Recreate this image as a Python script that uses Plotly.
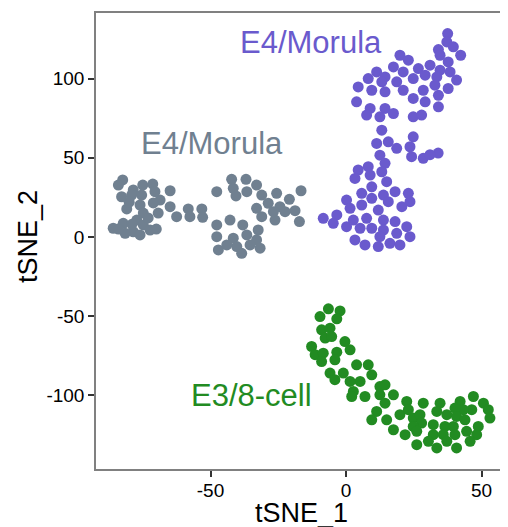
import plotly.graph_objects as go

# E4/Morula (grey cluster)
grey_x = [-82.4, -84.0, -78.5, -75.0, -71.3, -64.9, -82.8, -79.1, -75.4, -70.5, -68.6, -80.9, -76.0, -71.1,
          -64.9, -69.3, -74.8, -62.5, -58.2, -53.2, -57.6, -52.9, -77.2, -85.9, -82.2, -78.5, -74.8, -72.3,
          -76.0, -81.5, -80.0, -73.0, -79.0, -84.0, -70.0,
          -47.7, -42.2, -36.9, -33.0, -41.6, -40.6, -36.6, -31.1, -25.6, -16.6, -20.9, -28.7, -33.0, -24.4,
          -18.8, -31.1, -26.2, -17.2, -22.5, -26.8, -42.8, -47.7, -38.1, -32.4, -47.7, -41.6, -36.6, -33.0,
          -47.1, -40.3, -38.5, -35.4, -31.7, -44.0]
grey_y = [36.0, 32.8, 29.7, 32.8, 33.4, 29.2, 25.4, 26.5, 26.5, 28.6, 23.3, 17.7, 20.2, 21.5,
          19.1, 15.1, 15.1, 12.8, 17.7, 17.7, 12.8, 12.4, 10.7, 5.5, 8.6, 3.3, 7.6, 4.4,
          1.3, 2.3, 22.0, 12.0, 8.0, 5.0, 5.0,
          28.6, 36.4, 36.4, 32.8, 30.7, 25.9, 28.6, 26.5, 27.6, 29.2, 23.8, 21.3, 18.1, 19.1,
          16.6, 12.8, 10.7, 9.7, 16.0, 16.0, 10.7, 7.6, 7.6, 4.4, 0.2, -0.8, 1.3, -1.9,
          -8.2, -6.1, -10.3, -5.0, -7.1, -5.0]

# E4/Morula (purple cluster)
purple_x = [37.5, 37.2, 39.6, 42.3, 34.1, 34.7, 37.7, 19.9, 23.0, 17.5, 11.3, 8.2, 14.4, 21.1, 26.7, 31.0,
            34.7, 38.4, 40.8, 24.8, 29.2, 33.5, 18.7, 13.2, 4.5, 9.5, 14.4, 21.1, 28.5, 32.8, 37.7, 3.9,
            24.8, 29.2, 34.1, 34.1, 8.9, 14.4, 17.5, 12.5, 7.6, 24.8, 27.9, 13.2, 24.8, 11.3, 15.6,
            18.7, 23.6, 24.2, 28.5, 12.5, 14.4, 13.2, 4.5, 8.2, 3.3, 8.9, 15.0, 9.5, 5.8, 0.2, 18.1,
            23.0, 23.6, 13.8, 15.6, 9.5, 20.6, 1.5, 5.8, 11.9, -3.4, -8.4, -4.7, 0.2, 2.7, 7.6, 13.8,
            18.1, 22.4, 5.2, 9.5, 13.8, 18.7, 23.6, 3.3, 7.0, 11.9, 16.2, 19.9, 12.5, 34.0, 31.0]
purple_y = [128.5, 123.2, 120.1, 114.8, 118.4, 114.8, 110.6, 114.8, 111.7, 107.4, 104.3, 100.1, 101.1, 104.3,
            106.4, 108.5, 105.4, 104.3, 99.1, 100.1, 102.2, 101.1, 98.0, 98.0, 94.8, 92.7, 91.7, 92.7,
            92.7, 95.9, 93.8, 85.4, 87.5, 85.4, 89.5, 82.2, 81.2, 81.2, 78.0, 75.9, 77.0, 75.9, 77.0,
            67.5, 63.3, 59.1, 60.1,
            56.0, 57.0, 50.7, 49.7, 51.7, 46.5, 41.2, 42.3, 44.4, 37.0, 39.1, 34.9, 31.7, 27.6, 23.3,
            28.6, 27.6, 22.3, 26.5, 22.3, 24.4, 19.1, 18.1, 20.2, 17.0, 13.9, 11.8, 8.6, 6.5, 10.7,
            11.8, 10.7, 9.7, 6.5, 5.5, 5.5, 4.4, 2.3, 0.2, -1.9, -5.0, -6.1, -4.0, -5.0, 0.2, 53.0, 52.0]

# E3/8-cell (green cluster)
green_x = [-9.6, -6.5, -2.2, -3.4, -9.0, -5.9, -7.7, -5.3, -12.7, -0.4, 1.5, -11.4, -8.4, -3.4, -9.0, -4.1,
           -5.9, -4.1, -1.0, 3.9, 8.2, 9.5, 5.2, 1.5, 2.7, 2.1, 7.0, 12.5, 14.4, 12.5, 17.5, 14.4,
           22.4, 28.5, 34.7, 42.1, 47.0, 50.7, 52.5, 53.1, 46.4, 43.3, 40.2, 11.3, 9.5, 15.0, 19.9,
           23.0, 24.8, 27.3, 33.5, 37.2, 40.8, 43.9, 48.8, 48.2, 44.5, 39.6, 36.5, 32.2, 27.9, 24.8,
           17.5, 21.8, 26.1, 32.2, 35.9, 40.2, 45.8, 26.1, 33.5, 40.8, 37.2, 30.4]
green_y = [-50.3, -45.4, -46.7, -51.7, -58.7, -57.6, -63.9, -62.9, -69.2, -66.1, -71.3, -74.4, -73.4, -72.8,
           -78.7, -77.6, -86.0, -90.2, -86.0, -80.8, -80.8, -87.1, -91.3, -91.3, -97.6, -100.8, -100.8,
           -94.5, -93.4, -99.7, -99.7, -105.0, -103.9, -105.0, -105.0, -103.9, -100.8, -105.0, -109.1,
           -114.4, -109.1, -109.1, -108.1, -110.2, -115.5, -115.5, -112.3, -109.1, -114.4, -112.3,
           -110.2, -112.3, -113.4, -115.5, -119.7, -124.9, -122.8, -119.7, -119.7, -118.6, -117.6,
           -119.7, -121.8, -124.9, -122.8, -124.9, -124.9, -124.9, -129.1, -131.2, -133.3, -133.3,
           -129.1, -129.1]

labels = ["E4/Morula", "E4/Morula", "E3/8-cell"]
label_x = [-12.9, -49.4, -35.0]
label_y = [123.0, 59.3, -100.3]

GREY = "#708090"
PURPLE = "#6A5ACD"
GREEN = "#228B22"
colors = [PURPLE, GREY, GREEN]
FONT = "Liberation Sans, Arial, sans-serif"

fig = go.Figure()
for xs, ys, c in [(grey_x, grey_y, GREY), (purple_x, purple_y, PURPLE), (green_x, green_y, GREEN)]:
    fig.add_trace(go.Scatter(x=xs, y=ys, mode="markers",
                             marker=dict(size=11, color=c, line=dict(width=0)),
                             showlegend=False, hoverinfo="skip"))

for t, lx, ly, c in zip(labels, label_x, label_y, colors):
    fig.add_annotation(x=lx, y=ly, text=t, showarrow=False,
                       font=dict(size=31, color=c, family=FONT))

# axis titles
fig.add_annotation(x=0.499, y=-0.097, xref="paper", yref="paper", text="tSNE_1", showarrow=False,
                   xanchor="center", yanchor="middle", font=dict(size=27, color="black", family=FONT))
fig.add_annotation(x=-0.165, y=0.509, xref="paper", yref="paper", text="tSNE_2", showarrow=False,
                   textangle=-90, xanchor="center", yanchor="middle",
                   font=dict(size=27, color="black", family=FONT))

# page body has an 8px margin, so the figure is 8px smaller than the window
fig.update_layout(
    width=500, height=519,
    margin=dict(l=88, r=1, t=5, b=58, autoexpand=False),
    paper_bgcolor="white", plot_bgcolor="white",
    font=dict(family=FONT, color="black"),
    xaxis=dict(range=[-92.25, 59.4], tickvals=[-50, 0, 50], ticktext=["-50", "0", "50"],
               showgrid=False, zeroline=False, showline=True, linecolor="#808080", linewidth=1.5,
               mirror=True, ticks="outside", ticklen=6, tickcolor="#333333", tickwidth=1.5,
               tickfont=dict(size=19, color="black"), automargin=False, ticklabelstandoff=-3),
    yaxis=dict(range=[-146.6, 141.5], tickvals=[-100, -50, 0, 50, 100],
               ticktext=["-100", "-50", "0", "50", "100"],
               showgrid=False, zeroline=False, showline=True, linecolor="#808080", linewidth=1.5,
               mirror=False, ticks="outside", ticklen=6, tickcolor="#333333", tickwidth=1.5,
               tickfont=dict(size=19, color="black"), automargin=False),
)

fig.write_html("out.html")
